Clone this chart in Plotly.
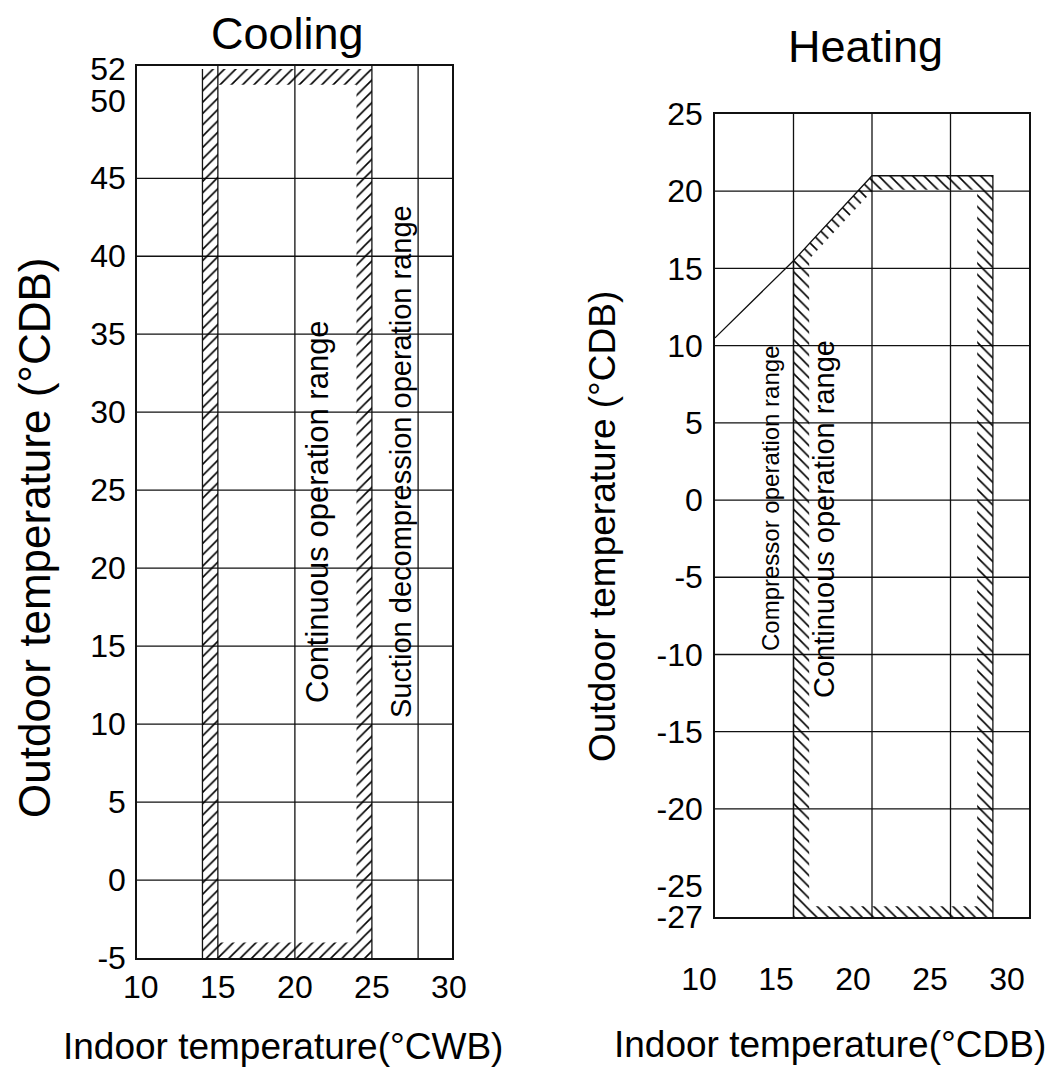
import plotly.graph_objects as go

# ---------------- data ----------------
cool_x_ticks = [10, 15, 20, 25, 30]
cool_y_ticks = [52, 50, 45, 40, 35, 30, 25, 20, 15, 10, 5, 0, -5]
cool_y_labels = ["52", "50", "45", "40", "35", "30", "25", "20", "15", "10", "5", "0", "-5"]
cool_x_grid = [15, 20, 25, 28]
cool_y_grid = [45, 40, 35, 30, 25, 20, 15, 10, 5, 0]

# suction decompression band (outer limit / continuous operation inner limit)
cool_outer_x = [14, 14, 25, 25, 14]
cool_outer_y = [-5, 52, 52, -5, -5]
cool_inner_x = [15, 24, 24, 15, 15]
cool_inner_y = [-4, -4, 51, 51, -4]
cool_left_x = [14, 14]
cool_left_y = [-5, 52]

heat_x_ticks = [10, 15, 20, 25, 30]
heat_y_ticks = [25, 20, 15, 10, 5, 0, -5, -10, -15, -20, -25, -27]
heat_y_labels = ["25", "20", "15", "10", "5", "0", "-5", "-10", "-15", "-20", "-25", "-27"]
heat_x_grid = [15, 20, 25]
heat_y_grid = [20, 15, 10, 5, 0, -5, -10, -15, -20]

# compressor / continuous operation band
heat_outer_x = [15, 15, 20, 27.7, 27.7, 15]
heat_outer_y = [-27, 15.5, 21, 21, -27, -27]
heat_inner_x = [16, 26.7, 26.7, 20.1, 16, 16]
heat_inner_y = [-26.3, -26.3, 20.1, 20.1, 15.6, -26.3]
# operation limit line
heat_limit_x = [10, 15, 20, 27.7, 27.7]
heat_limit_y = [10.5, 15.5, 21, 21, -27]
heat_left_x = [15, 15]
heat_left_y = [15.5, -27]

# ---------------- layout helpers ----------------
# the page body adds an 8px margin, so the figure is drawn 8px in from the corner
OFF = 8
W, H = 1056 - 2 * OFF, 1080 - 2 * OFF
def px_x(p):
    return (p - OFF) / W
def px_y(p):
    return 1 - (p - OFF) / H

FONT = "Liberation Sans, Arial, sans-serif"
INK = "#111111"
LW = 1.3
TICK_SIZE = 32

fig = go.Figure()

# cooling hatched band (keyhole polygon: outer CW + inner CCW)
fig.add_trace(go.Scatter(
    x=cool_outer_x + cool_inner_x + [cool_outer_x[0]],
    y=cool_outer_y + cool_inner_y + [cool_outer_y[0]],
    mode="lines", fill="toself", fillcolor="rgba(0,0,0,0)",
    fillpattern=dict(shape="/", size=8, solidity=0.2, fgcolor="black", bgcolor="rgba(0,0,0,0)"),
    line=dict(width=0), showlegend=False, hoverinfo="skip", xaxis="x", yaxis="y"))
fig.add_trace(go.Scatter(x=cool_left_x, y=cool_left_y, mode="lines",
                         line=dict(color=INK, width=LW), showlegend=False, hoverinfo="skip",
                         xaxis="x", yaxis="y"))

# heating hatched band
fig.add_trace(go.Scatter(
    x=heat_outer_x + heat_inner_x + [heat_outer_x[0]],
    y=heat_outer_y + heat_inner_y + [heat_outer_y[0]],
    mode="lines", fill="toself", fillcolor="rgba(0,0,0,0)",
    fillpattern=dict(shape="\\", size=8, solidity=0.2, fgcolor="black", bgcolor="rgba(0,0,0,0)"),
    line=dict(width=0), showlegend=False, hoverinfo="skip", xaxis="x2", yaxis="y2"))
fig.add_trace(go.Scatter(x=heat_limit_x, y=heat_limit_y, mode="lines",
                         line=dict(color=INK, width=LW), showlegend=False, hoverinfo="skip",
                         xaxis="x2", yaxis="y2"))
fig.add_trace(go.Scatter(x=heat_left_x, y=heat_left_y, mode="lines",
                         line=dict(color=INK, width=LW), showlegend=False, hoverinfo="skip",
                         xaxis="x2", yaxis="y2"))
# carrier for the heating tick-label axis
fig.add_trace(go.Scatter(x=[None], y=[None], mode="markers", showlegend=False,
                         hoverinfo="skip", xaxis="x3", yaxis="y2"))

# grid lines
for v in cool_x_grid:
    fig.add_shape(type="line", xref="x", yref="y domain", x0=v, x1=v, y0=0, y1=1,
                  line=dict(color=INK, width=LW), layer="below")
for v in cool_y_grid:
    fig.add_shape(type="line", xref="x domain", yref="y", x0=0, x1=1, y0=v, y1=v,
                  line=dict(color=INK, width=LW), layer="below")
for v in heat_x_grid:
    fig.add_shape(type="line", xref="x2", yref="y2 domain", x0=v, x1=v, y0=0, y1=1,
                  line=dict(color=INK, width=LW), layer="below")
for v in heat_y_grid:
    fig.add_shape(type="line", xref="x2 domain", yref="y2", x0=0, x1=1, y0=v, y1=v,
                  line=dict(color=INK, width=LW), layer="below")

axis_common = dict(showline=True, mirror=True, linecolor=INK, linewidth=1.5,
                   showgrid=False, zeroline=False, ticks="", fixedrange=True,
                   automargin=False,
                   tickfont=dict(size=TICK_SIZE, color="black", family=FONT))

fig.update_layout(
    template="none",
    width=W, height=H,
    margin=dict(l=0, r=0, t=0, b=0, pad=0, autoexpand=False),
    paper_bgcolor="white", plot_bgcolor="rgba(0,0,0,0)",
    font=dict(family=FONT, color="black"),
    showlegend=False,
    xaxis=dict(domain=[px_x(137), px_x(452)], range=[9.75, 30.2], anchor="y",
               tickmode="array", tickvals=cool_x_ticks, ticklabelstandoff=0, **axis_common),
    yaxis=dict(domain=[px_y(958), px_y(66)], range=[-5, 52.2], anchor="x",
               tickmode="array", tickvals=cool_y_ticks, ticktext=cool_y_labels,
               ticklabelstandoff=3, **axis_common),
    xaxis2=dict(domain=[px_x(715), px_x(1029)], range=[10, 30], anchor="y2",
                showticklabels=False, **axis_common),
    yaxis2=dict(domain=[px_y(917), px_y(114)], range=[-27, 25], anchor="x2",
                tickmode="array", tickvals=heat_y_ticks, ticktext=heat_y_labels,
                ticklabelstandoff=4, **axis_common),
    xaxis3=dict(domain=[px_x(690), px_x(1045)], range=[9.415, 32.47], anchor="free",
                position=px_y(957), tickmode="array", tickvals=heat_x_ticks,
                showline=False, showgrid=False, zeroline=False, ticks="", fixedrange=True,
                automargin=False, ticklabelstandoff=0,
                tickfont=dict(size=TICK_SIZE, color="black", family=FONT)),
)

ann = [
    dict(text="Cooling", x=px_x(287), y=px_y(33), size=45, angle=0),
    dict(text="Heating", x=px_x(865), y=px_y(47), size=45, angle=0),
    dict(text="Outdoor temperature (°CDB)", x=px_x(34), y=px_y(538), size=44, angle=-90),
    dict(text="Outdoor temperature (°CDB)", x=px_x(603), y=px_y(527), size=37, angle=-90),
    dict(text="Indoor temperature(°CWB)", x=px_x(283), y=px_y(1046), size=37, angle=0),
    dict(text="Indoor temperature(°CDB)", x=px_x(830), y=px_y(1044), size=37, angle=0),
    dict(text="Continuous operation range", x=px_x(318), y=px_y(512), size=31, angle=-90),
    dict(text="Suction decompression operation range", x=px_x(401), y=px_y(462), size=29, angle=-90),
    dict(text="Compressor operation range", x=px_x(770), y=px_y(498), size=24, angle=-90),
    dict(text="Continuous operation range", x=px_x(824), y=px_y(519), size=29, angle=-90),
]
for a in ann:
    fig.add_annotation(text=a["text"], x=a["x"], y=a["y"], xref="paper", yref="paper",
                       xanchor="center", yanchor="middle", textangle=a["angle"],
                       showarrow=False, font=dict(size=a["size"], color="black", family=FONT))

fig.write_html("out.html")
